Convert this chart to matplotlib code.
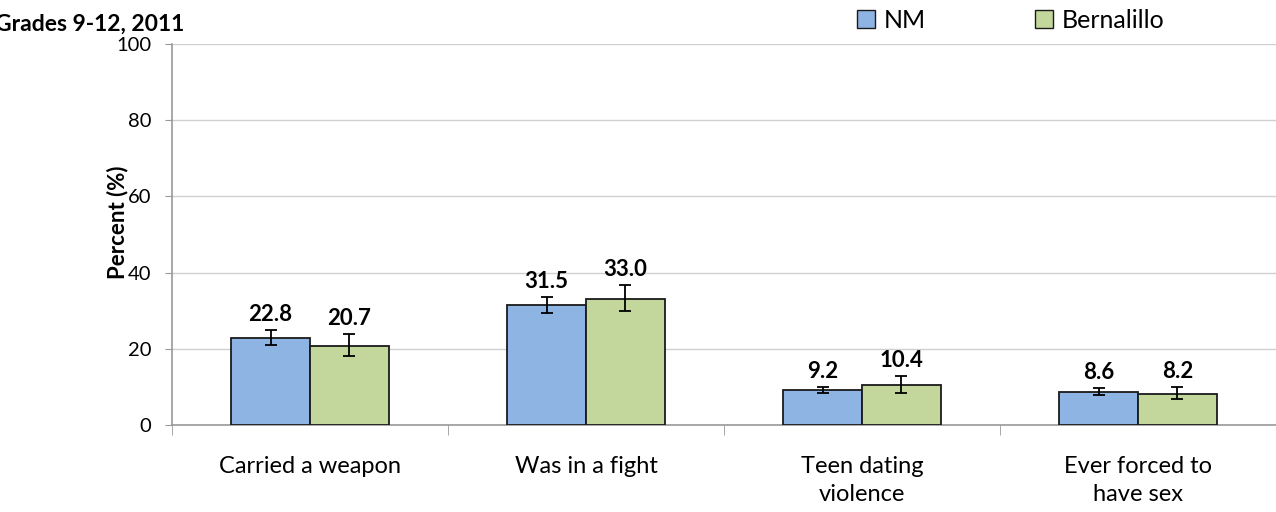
import matplotlib.pyplot as plt
import numpy as np

plt.rcParams['font.family'] = ['Lato', 'DejaVu Sans']

categories = ["Carried a weapon", "Was in a fight", "Teen dating\nviolence", "Ever forced to\nhave sex"]
series_names = ["NM", "Bernalillo"]
nm_values = [22.8, 31.5, 9.2, 8.6]
bern_values = [20.7, 33.0, 10.4, 8.2]
# 95% confidence limits
nm_lower = [21.0, 29.5, 8.5, 7.8]
nm_upper = [24.9, 33.6, 10.0, 9.6]
bern_lower = [18.0, 29.8, 8.3, 6.8]
bern_upper = [23.8, 36.8, 12.9, 10.0]

colors = ["#8EB4E3", "#C3D69B"]

fig = plt.figure(figsize=(12.76, 5.12), dpi=100)
ax = fig.add_axes([172 / 1276, 1 - 425 / 512, 1104 / 1276, 381 / 512])

x = np.arange(len(categories))
width = 0.286
groups = [
    (nm_values, nm_lower, nm_upper, -width / 2),
    (bern_values, bern_lower, bern_upper, width / 2),
]
for i, (vals, lo, hi, off) in enumerate(groups):
    vals = np.array(vals)
    yerr = [vals - np.array(lo), np.array(hi) - vals]
    ax.bar(x + off, vals, width, color=colors[i], edgecolor="#1a1a1a", linewidth=1.3,
           label=series_names[i], zorder=3)
    ax.errorbar(x + off, vals, yerr=yerr, fmt="none", ecolor="black", elinewidth=1.3,
                capsize=4, capthick=1.3, zorder=4)
    for xi, v, h in zip(x + off, vals, hi):
        ax.text(xi, h + 1.3, f"{v:.1f}", ha="center", va="bottom", fontsize=16,
                fontweight="bold", zorder=5)

ax.set_xlim(-0.5, len(categories) - 0.5)
ax.set_ylim(0, 100)
ax.set_yticks(range(0, 101, 20))
ax.tick_params(axis="y", labelsize=14.5, length=5, color="#999999", pad=10)
ax.set_xticks(x)
ax.set_xticklabels(categories, fontsize=17, linespacing=1.45)
ax.tick_params(axis="x", length=0, pad=22)
ax.set_xticks(np.arange(-0.5, len(categories)), minor=True)
ax.tick_params(axis="x", which="minor", length=7, color="#999999")
ax.grid(axis="y", color="#d0d0d0", linewidth=1, zorder=0)
for s in ["top", "right"]:
    ax.spines[s].set_visible(False)
for s in ["left", "bottom"]:
    ax.spines[s].set_color("#999999")
    ax.spines[s].set_linewidth(1.2)

fig.text(118 / 1276, 1 - 222 / 512, "Percent (%)", fontsize=16, fontweight="bold",
         rotation=90, ha="center", va="center")

fig.text(-0.004, 1 - 24 / 512, "Grades 9-12, 2011", fontsize=16.5, fontweight="bold",
         ha="left", va="center")

leg = ax.legend(loc="center left", bbox_to_anchor=(857 / 1276, 1 - 20 / 512),
                bbox_transform=fig.transFigure, ncol=2, frameon=False, fontsize=18,
                handlelength=0.7, handleheight=0.7, handletextpad=0.35, columnspacing=4.4,
                borderaxespad=0, borderpad=0)
for h in leg.legend_handles:
    h.set_linewidth(1.0)

fig.savefig("out.png", dpi=100)
